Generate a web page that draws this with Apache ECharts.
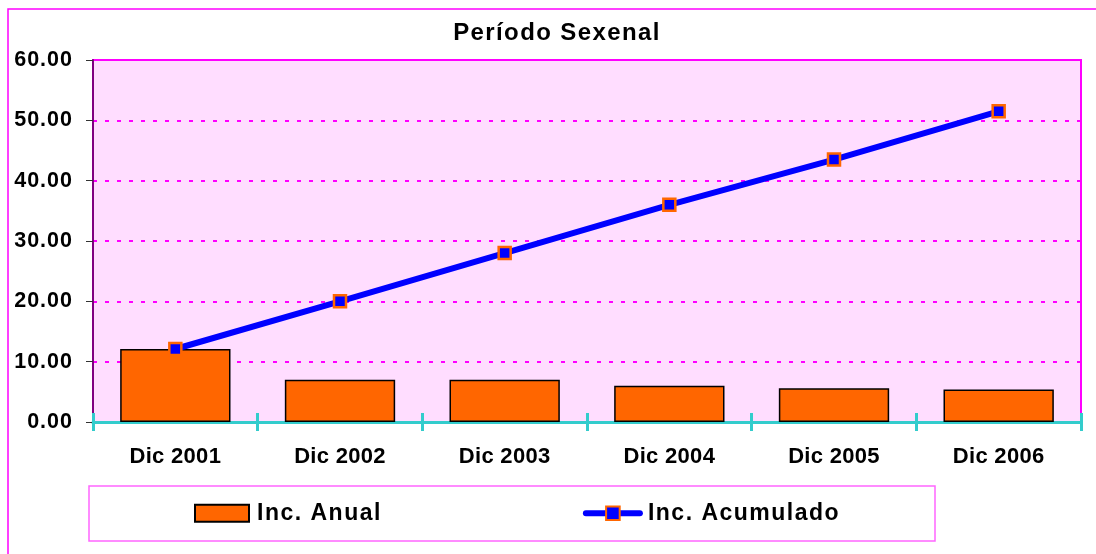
<!DOCTYPE html>
<html>
<head>
<meta charset="utf-8">
<script src="https://cdn.jsdelivr.net/npm/echarts@6/dist/echarts.min.js"></script>
<style>
html,body{margin:0;padding:0;background:#fff;}
#chart{width:1096px;height:554px;}
</style>
</head>
<body>
<div id="chart"></div>
<script>
const titleText = 'Período Sexenal';
const categories = ['Dic 2001', 'Dic 2002', 'Dic 2003', 'Dic 2004', 'Dic 2005', 'Dic 2006'];
const seriesNames = ['Inc. Anual', 'Inc. Acumulado'];
const incAnual = [12.1, 7.0, 7.0, 6.0, 5.6, 5.4];
const incAcumulado = [12.1, 20.0, 28.0, 36.0, 43.5, 51.5];
const yTicks = { min: 0, max: 60, interval: 10 };

// The reference text is slightly letter-spaced (Excel rendering); emulate with canvas letterSpacing per font size.
const SPACING = { '24': '1.4px', '23': '1.5px', '22': '0.3px', '21.5': '1px' };
(function () {
  const proto = CanvasRenderingContext2D.prototype;
  const desc = Object.getOwnPropertyDescriptor(proto, 'font');
  if (!desc || !('letterSpacing' in proto)) return;
  Object.defineProperty(proto, 'font', {
    configurable: true,
    get() { return desc.get.call(this); },
    set(v) {
      desc.set.call(this, v);
      const m = /([\d.]+)px/.exec(v);
      this.letterSpacing = (m && SPACING[m[1]]) || '0px';
    }
  });
})();

const FONT = '"Liberation Sans", Arial, sans-serif';
const chart = echarts.init(document.getElementById('chart'), null, { renderer: 'canvas' });

chart.setOption({
  backgroundColor: '#ffffff',
  animation: false,
  title: {
    text: titleText,
    left: 552, top: 16, textAlign: 'center',
    textStyle: { fontFamily: FONT, fontWeight: 'bold', fontSize: 24, color: '#000' }
  },
  graphic: [
    { type: 'rect', z: -10, shape: { x: 8, y: 9, width: 1200, height: 700 },
      style: { fill: '#ffffff', stroke: '#FF00FF', lineWidth: 1.5 } },
    { type: 'rect', z: 1, shape: { x: 89, y: 486, width: 846, height: 55 },
      style: { fill: '#ffffff', stroke: '#FF66FF', lineWidth: 1.5 } }
  ],
  legend: {
    data: [{ name: seriesNames[0], icon: 'rect' }, { name: seriesNames[1] }],
    left: 194, top: 501, padding: 0,
    z: 5,
    itemWidth: 54, itemHeight: 17, itemGap: 201,
    lineStyle: { width: 6, cap: 'round' },
    textStyle: { fontFamily: FONT, fontWeight: 'bold', fontSize: 23, color: '#000', padding: [0, 0, 0, 3] }
  },
  grid: {
    left: 93, right: 15, top: 60, bottom: 132,
    show: true, backgroundColor: '#FFDDFF', borderColor: '#FF00FF', borderWidth: 2
  },
  xAxis: [{
    type: 'category', data: categories, position: 'bottom',
    axisLine: { show: true, lineStyle: { color: '#33CCCC', width: 3 } },
    axisTick: { show: true, length: 9, lineStyle: { color: '#33CCCC', width: 3 } },
    axisLabel: { fontFamily: FONT, fontWeight: 'bold', fontSize: 22, color: '#000', margin: 24 }
  }, {
    type: 'category', data: categories, position: 'bottom',
    axisLine: { show: true, lineStyle: { color: '#33CCCC', width: 3 } },
    axisTick: { show: true, inside: true, length: 9, lineStyle: { color: '#33CCCC', width: 3 } },
    axisLabel: { show: false }
  }],
  yAxis: {
    type: 'value', min: yTicks.min, max: yTicks.max, interval: yTicks.interval,
    axisLine: { show: true, lineStyle: { color: '#800080', width: 2 } },
    axisTick: { show: true, length: 7, lineStyle: { color: '#333', width: 1 } },
    axisLabel: { fontFamily: FONT, fontWeight: 'bold', fontSize: 21.5, color: '#000', margin: 20,
      formatter: v => v.toFixed(2) },
    splitLine: { show: true, lineStyle: { color: '#FF00FF', width: 2, type: [4, 8] } }
  },
  series: [{
    name: seriesNames[0], type: 'bar', data: incAnual, xAxisIndex: 0,
    barCategoryGap: '33%',
    itemStyle: { color: '#FF6600', borderColor: '#000', borderWidth: 1.5 },
    z: 2
  }, {
    name: seriesNames[1], type: 'line', data: incAcumulado, xAxisIndex: 0,
    symbol: 'rect', symbolSize: 12,
    lineStyle: { color: '#0000FF', width: 6 },
    itemStyle: { color: '#0000FF', borderColor: '#FF6600', borderWidth: 2.5 },
    z: 3
  }]
});
</script>
</body>
</html>
